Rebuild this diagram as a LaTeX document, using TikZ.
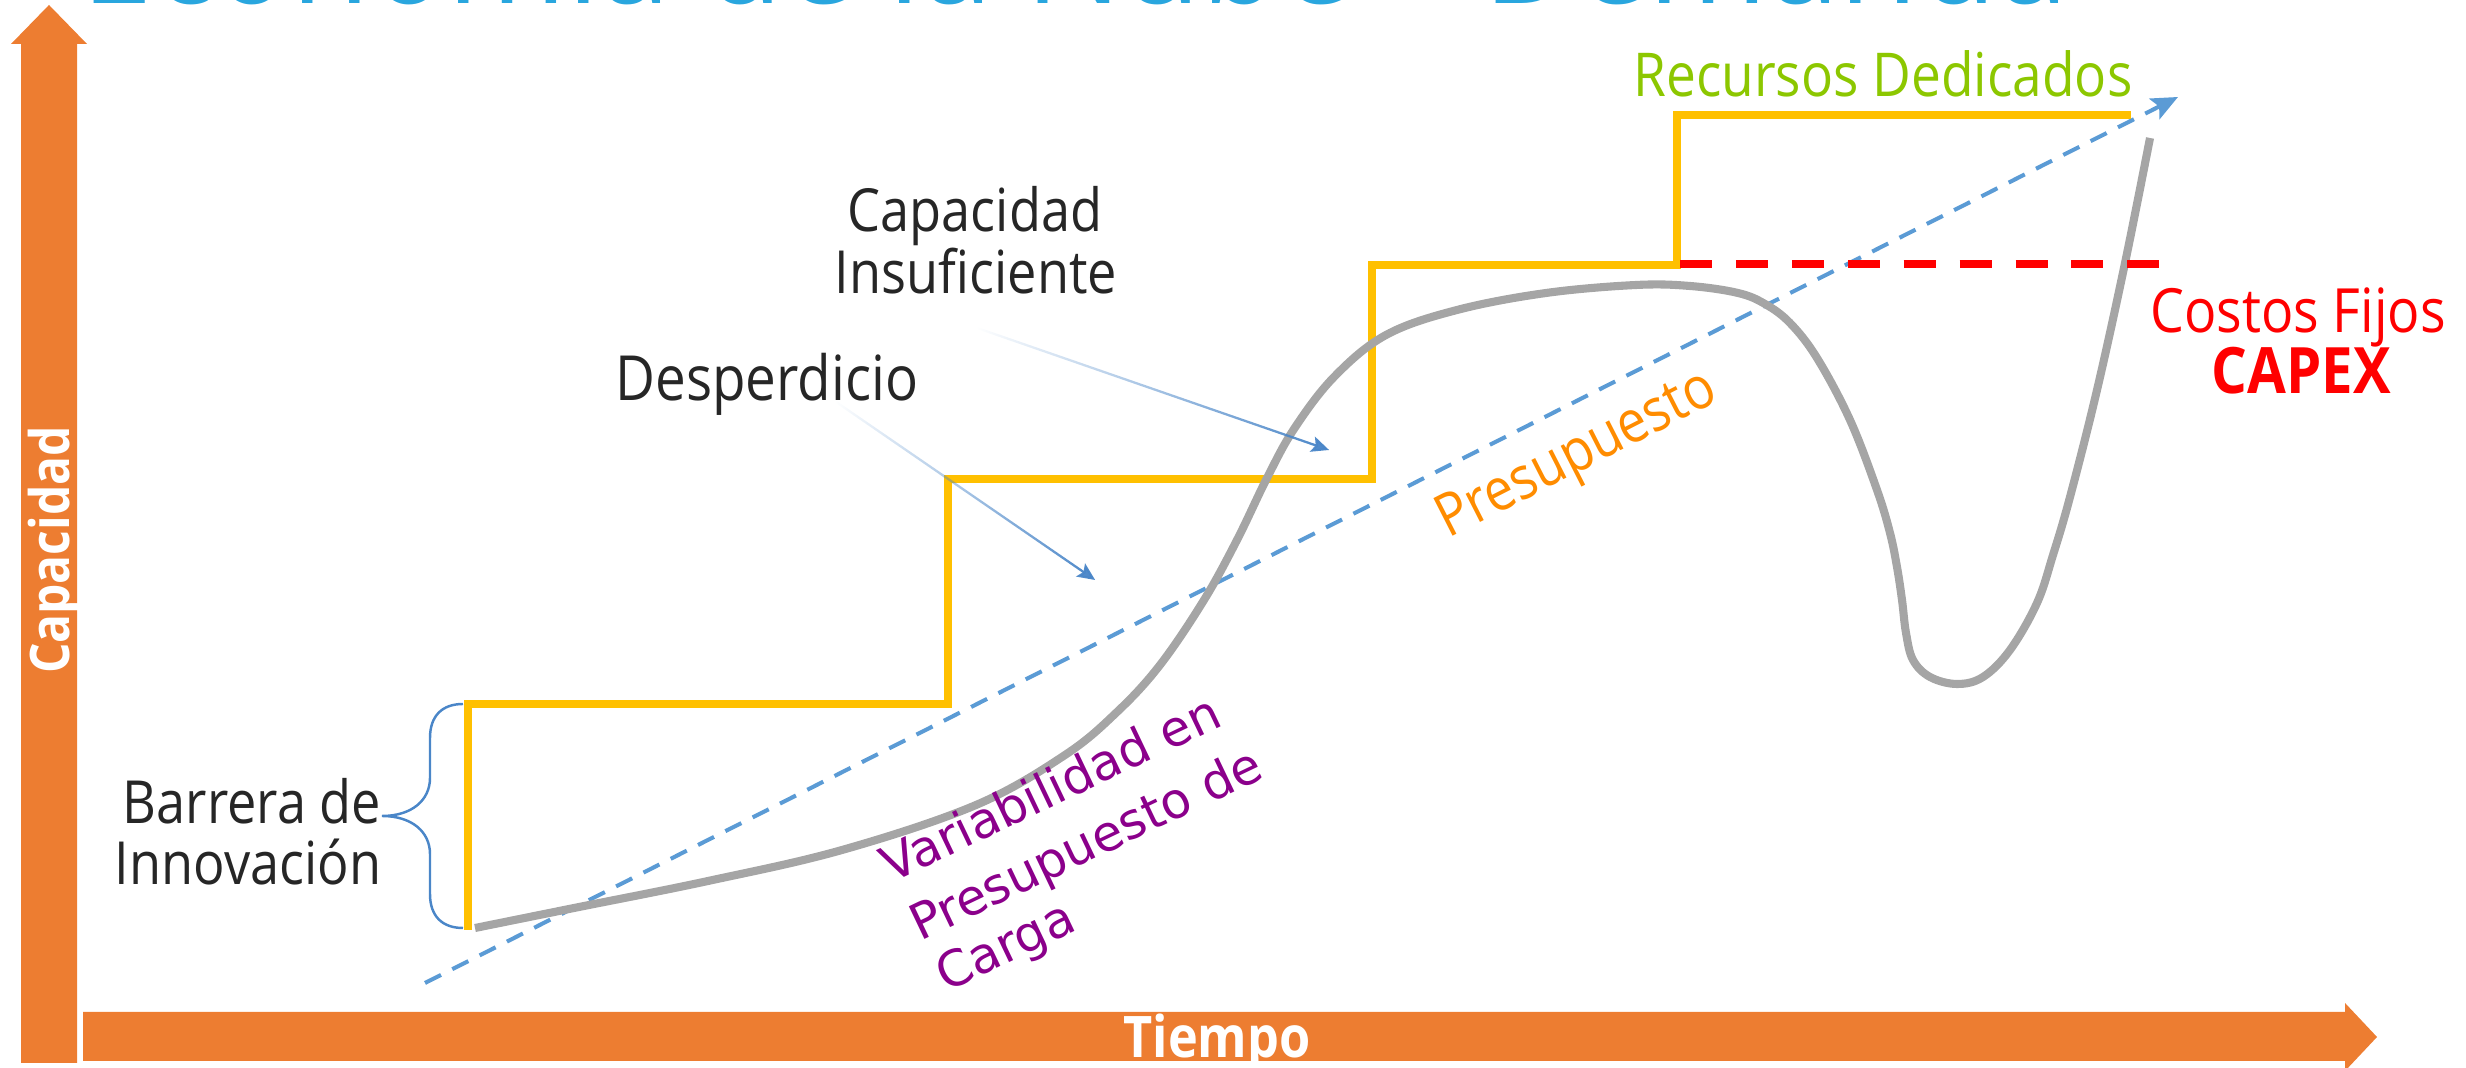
\documentclass[tikz,border=0pt]{standalone}
\usepackage{fontspec}
\setmainfont{Open Sans}[FakeStretch=0.88]
\newfontfamily\djv{DejaVu Sans}
\usetikzlibrary{arrows.meta,fadings}

\definecolor{axisorange}{HTML}{ED7D31}
\definecolor{stepyellow}{HTML}{FFC000}
\definecolor{curvegrey}{HTML}{A5A5A5}
\definecolor{budgetblue}{HTML}{5B9BD5}
\definecolor{calloutblue}{HTML}{4A86C8}
\definecolor{labelgrey}{HTML}{262626}
\definecolor{resgreen}{HTML}{8CC700}
\definecolor{capexred}{HTML}{FF0000}
\definecolor{presorange}{HTML}{FF8C00}
\definecolor{varpurple}{HTML}{8B008B}
\definecolor{titleblue}{HTML}{29A6DE}

\tikzfading[name=calloutfade, left color=transparent!100, middle color=transparent!0, right color=transparent!0]

\tikzset{
  label/.style={inner sep=0pt, text=labelgrey, font=\fontsize{16.9pt}{19pt}\selectfont},
  axislabel/.style={inner sep=0pt, text=white, font=\bfseries\fontsize{15.5pt}{17pt}\selectfont},
  stepline/.style={draw=stepyellow, line width=2.1pt},
  demandcurve/.style={draw=curvegrey, line width=2.3pt},
  budgetline/.style={draw=budgetblue, line width=1.15pt, dash pattern=on 5.1pt off 3.6pt,
    -{Stealth[length=7.5pt,width=6.5pt,inset=1.5pt]}},
  fixedline/.style={draw=capexred, line width=2pt, dash pattern=on 9.1pt off 6.8pt},
  callout/.style={draw=calloutblue, line width=0.65pt, -{Stealth[length=5pt,width=4.5pt,inset=1pt]},
    path fading=calloutfade},
  varlabel/.style={inner sep=0pt, text=varpurple, font=\djv\fontsize{14.1pt}{17pt}\selectfont, rotate=25.5, anchor=base west}
}

\begin{document}
\begin{tikzpicture}[x=0.01cm, y=-0.01cm]
\useasboundingbox (0,0) rectangle (2466,1068);

% clipped title
\begin{scope}
  \clip (0,0) rectangle (2466,1068);
  \node[anchor=base, inner sep=0pt, text=titleblue, font=\fontsize{41.5pt}{45pt}\selectfont] (title) at (1075,4) {Economía de la Nube – Demanda};
\end{scope}

% axes
\fill[axisorange] (21,1063) -- (21,44) -- (11,44) -- (49,5) -- (87,44) -- (77,44) -- (77,1063) -- cycle;
\fill[axisorange] (83,1012) -- (2345,1012) -- (2345,1003) -- (2377,1037) -- (2345,1071) -- (2345,1061) -- (83,1061) -- cycle;
\node[axislabel, rotate=90, anchor=base] (ylabel) at (69,550) {Capacidad};
\node[axislabel, font=\bfseries\fontsize{16.3pt}{18pt}\selectfont, anchor=base] (xlabel) at (1217,1058) {Tiempo};

% budget line
\coordinate (b0) at (425,983);
\coordinate (b1) at (2178,97);
\draw[budgetline] (b0) -- (b1);

% capacity steps
\draw[stepline] (468,930) -- (468,704) -- (948,704) -- (948,479) -- (1372,479) -- (1372,265) -- (1677,265) -- (1677,115) -- (2131,115);

% demand curve
\draw[demandcurve] plot[smooth, tension=0.6] coordinates {
 (475,928) (574,908) (708,881) (842,850) (976,805) (1065,755) (1117,712) (1160,665)
 (1204,600) (1237,540) (1267,478) (1294,429) (1334,377) (1386,335) (1457,310) (1546,293)
 (1636,285) (1690,286) (1738,293) (1765,304) (1790,323) (1817,358) (1850,420) (1877,490) (1890,533)
 (1897,567) (1902,600) (1906,633) (1913,660) (1930,677) (1957,684) (1983,677) (2010,650)
 (2037,603) (2053,555) (2070,497) (2097,390) (2125,263) (2150,138)};

% fixed costs
\draw[fixedline] (1680,264) -- (2161,264);

% brace
\draw[calloutblue, line width=0.7pt] (463,704) .. controls (442,704) and (430,716) .. (430,738) -- (430,778)
  .. controls (430,800) and (412,816) .. (382,816) .. controls (412,816) and (430,832) .. (430,854)
  -- (430,894) .. controls (430,916) and (442,928) .. (463,928);

% labels
\node[label, anchor=base east] (barr1) at (382,824) {Barrera de};
\node[label, anchor=base east] (barr2) at (382,885) {Innovación};
\node[label, anchor=base] (cap1) at (975,232) {Capacidad};
\node[label, anchor=base] (cap2) at (976,294) {Insuficiente};
\node[label, font=\fontsize{17.7pt}{19pt}\selectfont, anchor=base] (desp) at (767,401) {Desperdicio};
\node[inner sep=0pt, anchor=base, text=resgreen, font=\fontsize{17.2pt}{19pt}\selectfont] (recursos) at (1883,97) {Recursos Dedicados};
\node[inner sep=0pt, anchor=base, text=capexred, font=\fontsize{17.35pt}{19pt}\selectfont] (costos) at (2298,333) {Costos Fijos};
\node[inner sep=0pt, anchor=base, text=capexred, font=\bfseries\fontsize{18.2pt}{20pt}\selectfont] (capex) at (2301,394) {CAPEX};
\node[inner sep=0pt, anchor=base west, rotate=27, text=presorange, font=\fontsize{16.8pt}{18pt}\selectfont] (pres) at (1448,539) {Presupuesto};
\node[varlabel] (var1) at (891,884) {Variabilidad en};
\node[varlabel] (var2) at (920,942) {Presupuesto de};
\node[varlabel] (var3) at (946,993) {Carga};

% callout arrows
\coordinate (cins-s) at (977,328);
\coordinate (cins-e) at (1329,450);
\coordinate (desp-s) at (836,402);
\coordinate (desp-e) at (1095,580);
\draw[callout] (cins-s) -- (cins-e);
\draw[callout] (desp-s) -- (desp-e);
\end{tikzpicture}
\end{document}
